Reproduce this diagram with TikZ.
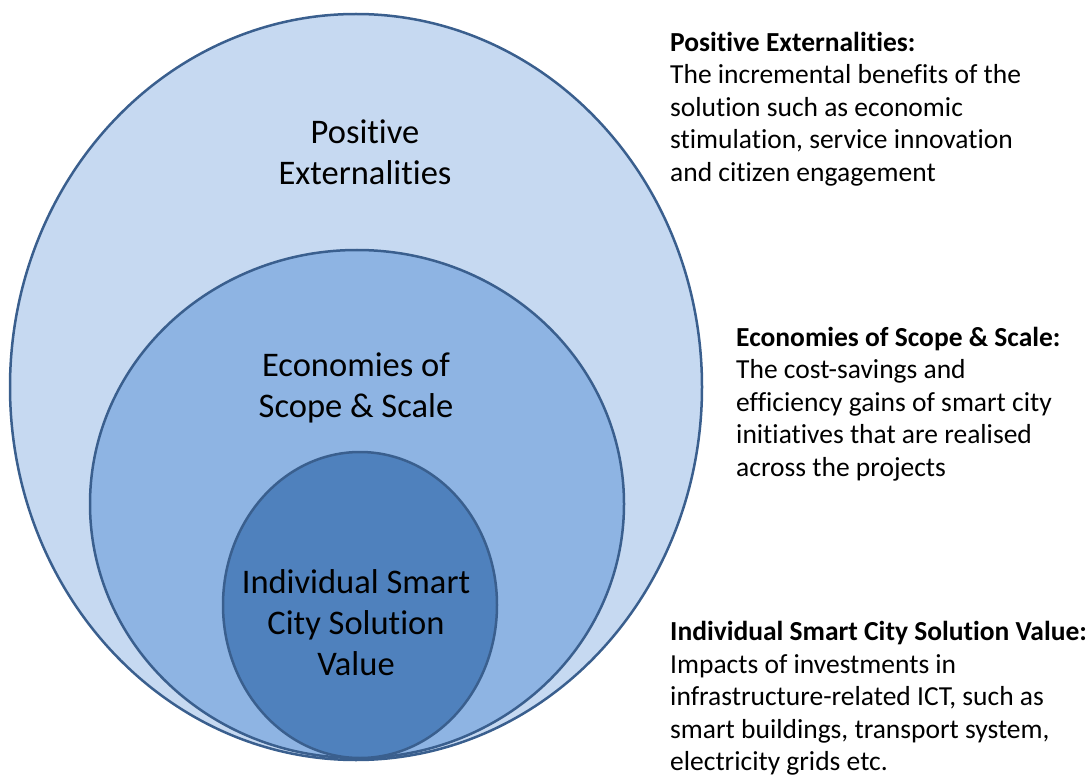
\documentclass[tikz,border=0pt]{standalone}
\usepackage{fontspec}
\setmainfont{Carlito}[RawFeature={-liga;-clig}]
\usetikzlibrary{positioning, shapes.geometric}
\definecolor{paleblue}{HTML}{C6D9F1}
\definecolor{midblue}{HTML}{8EB4E3}
\definecolor{deepblue}{HTML}{4F81BD}
\definecolor{rimblue}{HTML}{3A5F8E}

\begin{document}
\begin{tikzpicture}[x=1pt, y=-1pt,
        ring/.style={draw=rimblue, line width=2.5pt, ellipse, inner sep=0pt},
        ringlabel/.style={align=center, font=\fontsize{34.5}{41}\selectfont},
        note/.style={align=left, anchor=north west, inner sep=0pt, font=\fontsize{27.5}{32.5}\selectfont}]
        \useasboundingbox (0,0) rectangle (1090,778);

        % nested value circles
        \node[ring, fill=paleblue, minimum width=692pt, minimum height=746pt] (outer) at (356,387) {};
        \node[ring, fill=midblue, minimum width=534pt, minimum height=508pt] (middle) at (357,504) {};
        \node[ring, fill=deepblue, minimum width=274pt, minimum height=306pt] (inner) at (360,605) {};

        \node[ringlabel] (outerlbl) at (365,152) {Positive\\Externalities};
        \node[ringlabel] (middlelbl) at (356,388) {Economies of\\Scope \& Scale};
        \node[ringlabel] (innerlbl) at (356,623) {Individual Smart\\City Solution\\Value};

        % descriptions on the right
        \node[note] (outernote) at (670,32) {\textbf{Positive Externalities:}\\The incremental benefits of the\\solution such as economic\\stimulation, service innovation\\and citizen engagement};
        \node[note] (middlenote) at (736,327) {\textbf{Economies of Scope \& Scale:}\\The cost-savings and\\efficiency gains of smart city\\initiatives that are realised\\across the projects};
        \node[note] (innernote) at (670,621) {\textbf{Individual Smart City Solution Value:}\\Impacts of investments in\\infrastructure-related ICT, such as\\smart buildings, transport system,\\electricity grids etc.};
    \end{tikzpicture}
\end{document}
